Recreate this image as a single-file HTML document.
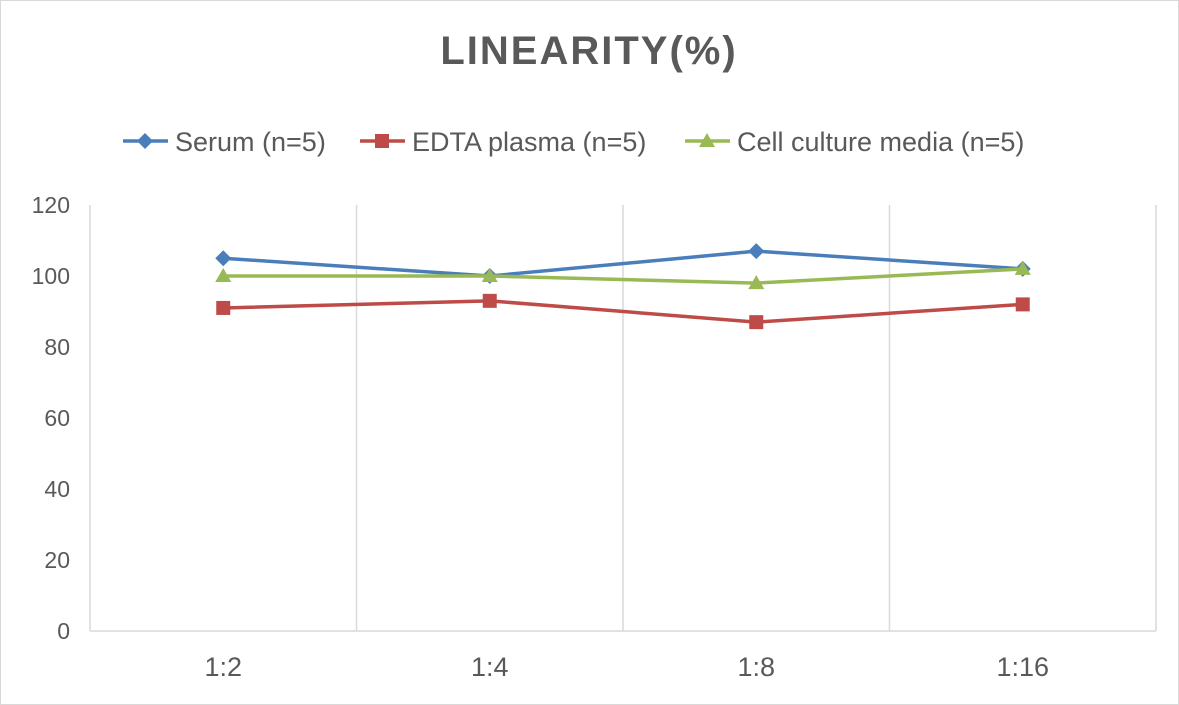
<!DOCTYPE html>
<html><head><meta charset="utf-8"><style>
body{margin:0;background:#fff}
svg{display:block}
text{font-family:"Liberation Sans",sans-serif}
</style></head><body>
<svg id="c" width="1179" height="705">
<rect x="0.5" y="0.5" width="1178" height="704" fill="#fff" stroke="#d9d9d9"/>
<text x="589" y="64" text-anchor="middle" font-size="40" font-weight="bold" fill="#595959" letter-spacing="2">LINEARITY(%)</text>
<g id="legend"></g>
<g id="grid"></g>
<g id="series"></g>
</svg>
<script>
const categories=["1:2","1:4","1:8","1:16"];
const serum=[105,100,107,102];
const edta=[91,93,87,92];
const cell=[100,100,98,102];
const yTicks=[0,20,40,60,80,100,120];
const seriesNames=["Serum (n=5)","EDTA plasma (n=5)","Cell culture media (n=5)"];
const NS="http://www.w3.org/2000/svg";
const L=90,R=1156,T=205,B=631;
const band=(R-L)/categories.length;
const x=i=>L+band*(i+0.5);
const y=v=>B-(v/120)*(B-T);
function mk(tag,attrs,parent){const e=document.createElementNS(NS,tag);for(const k in attrs)e.setAttribute(k,attrs[k]);parent.appendChild(e);return e;}
const grid=document.getElementById('grid');
for(let i=0;i<=categories.length;i++){const l=mk('line',{x1:L+band*i,x2:L+band*i,y1:T,y2:B,stroke:'#d9d9d9','stroke-width':1.5},grid);

}
const ax=mk('line',{x1:L,x2:R,y1:B,y2:B,stroke:'#d9d9d9','stroke-width':1.5},grid);


yTicks.forEach(v=>{const t=mk('text',{x:70,y:y(v)+8,'text-anchor':'end','font-size':23,fill:'#595959'},grid);t.textContent=v;

});
categories.forEach((c,i)=>{const t=mk('text',{x:x(i),y:676,'text-anchor':'middle','font-size':27,fill:'#595959'},grid);t.textContent=c;

});
const colors=['#4a7ebb','#be4b48','#98b954'];
const datas=[serum,edta,cell];
function marker(k,cx,cy,p){
 if(k==0)return mk('polygon',{points:`${cx},${cy-8} ${cx+8},${cy} ${cx},${cy+8} ${cx-8},${cy}`,fill:colors[0]},p);
 if(k==1)return mk('rect',{x:cx-7,y:cy-7,width:14,height:14,fill:colors[1]},p);
 return mk('polygon',{points:`${cx},${cy-8} ${cx+8},${cy+6} ${cx-8},${cy+6}`,fill:colors[2]},p);
}
const sg=document.getElementById('series');
datas.forEach((d,k)=>{
 const pl=mk('polyline',{points:d.map((v,i)=>x(i)+','+y(v)).join(' '),fill:'none',stroke:colors[k],'stroke-width':3.5},sg);
 
 
 d.forEach((v,i)=>{const m=marker(k,x(i),y(v),sg);
 
 });
});
const lg=document.getElementById('legend');
const lx=[123,360,685];
seriesNames.forEach((n,k)=>{
 const l=mk('line',{x1:lx[k],x2:lx[k]+45,y1:141,y2:141,stroke:colors[k],'stroke-width':3.5},lg);
 
 
 const m=marker(k,lx[k]+22,141,lg);
 
 
 const t=mk('text',{x:lx[k]+52,y:151,'font-size':27,fill:'#595959'},lg);t.textContent=n;
 
 
});
</script>
</body></html>
